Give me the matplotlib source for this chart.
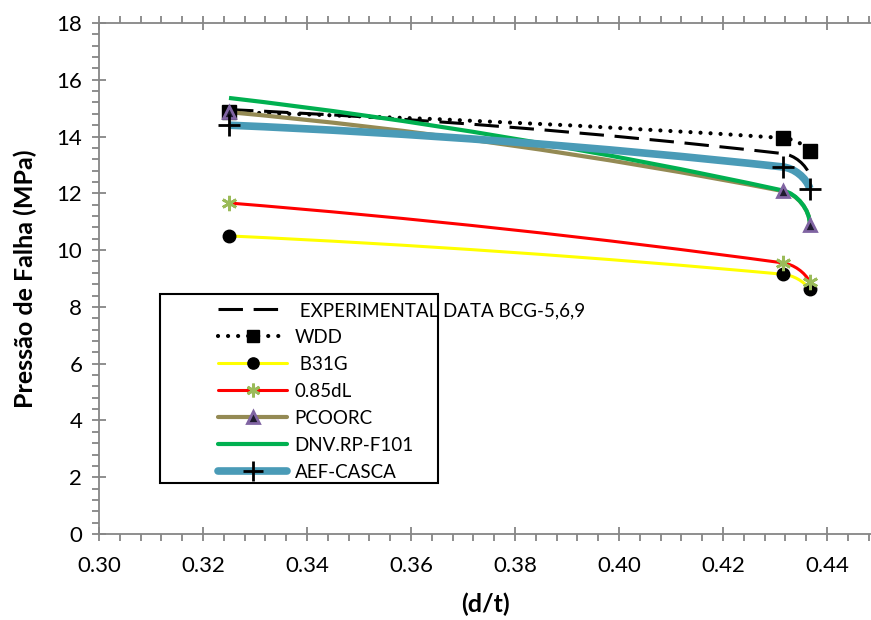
import numpy as np
import matplotlib
matplotlib.use("Agg")
import matplotlib.pyplot as plt
from matplotlib.path import Path
from matplotlib.patches import PathPatch, Rectangle
from matplotlib.lines import Line2D
from matplotlib.ticker import MultipleLocator, FormatStrFormatter

plt.rcParams['font.family'] = ['Lato', 'DejaVu Sans']

# d/t ratios of the three specimens
dt = [0.325, 0.4315, 0.4367]

# failure pressure (MPa) per method
experimental = [14.95, 13.40, 12.62]
wdd = [14.86, 13.95, 13.49]
b31g = [10.50, 9.15, 8.62]
dl085 = [11.66, 9.55, 8.88]
pcoorc = [14.86, 12.08, 10.90]
dnv = [15.36, 12.10, 10.90]
aef = [14.40, 12.93, 12.17]

labels = [' EXPERIMENTAL DATA BCG-5,6,9', 'WDD', ' B31G', '0.85dL',
          'PCOORC', 'DNV.RP-F101', 'AEF-CASCA']

fig = plt.figure(figsize=(8.71, 6.20), dpi=100)
ax = fig.add_axes([99 / 871, 1 - 534 / 620, 1 - 99 / 871, (534 - 23) / 620])
ax.set_xlim(0.30, 0.30 + 772 / 5200)
ax.set_ylim(0, 18)

axis_grey = '#868686'
for side in ('left', 'bottom', 'top'):
    ax.spines[side].set_color(axis_grey)
    ax.spines[side].set_linewidth(1.3)
ax.spines['right'].set_visible(False)

ax.xaxis.set_major_locator(MultipleLocator(0.02))
ax.xaxis.set_minor_locator(MultipleLocator(0.004))
ax.yaxis.set_major_locator(MultipleLocator(2))
ax.yaxis.set_minor_locator(MultipleLocator(0.4))
ax.xaxis.set_major_formatter(FormatStrFormatter('%.2f'))
ax.tick_params(which='major', direction='inout', length=10, width=1.3,
               color=axis_grey, labelsize=16, top=True, right=False)
ax.tick_params(which='minor', direction='out', length=5, width=1.3,
               color=axis_grey, top=True, right=False)
ax.tick_params(axis='x', which='major', pad=11, labeltop=False)
ax.tick_params(axis='y', which='major', pad=7)

ax.set_xlabel('(d/t)', fontsize=18, fontweight='bold', labelpad=12)
ax.set_ylabel('Pressão de Falha (MPa)', fontsize=18, fontweight='bold', labelpad=14)


def smooth_path(xs, ys):
    """Bezier curve through the points, tangents computed in display space."""
    pts = ax.transData.transform(np.column_stack([xs, ys]))
    n = len(pts)
    dirs = [None] * n
    for i in range(1, n - 1):
        d = pts[i + 1] - pts[i - 1]
        dirs[i] = d / np.linalg.norm(d)
    c0 = pts[1] - pts[0]
    c0 /= np.linalg.norm(c0)
    dirs[0] = 2 * np.dot(c0, dirs[1]) * c0 - dirs[1]
    ce = pts[-1] - pts[-2]
    ce /= np.linalg.norm(ce)
    dirs[-1] = 2 * np.dot(ce, dirs[-2]) * ce - dirs[-2]
    verts = [pts[0]]
    codes = [Path.MOVETO]
    for i in range(n - 1):
        L = np.linalg.norm(pts[i + 1] - pts[i])
        verts += [pts[i] + dirs[i] * L / 3, pts[i + 1] - dirs[i + 1] * L / 3, pts[i + 1]]
        codes += [Path.CURVE4] * 3
    verts = ax.transData.inverted().transform(np.array(verts))
    return Path(verts, codes)


styles = [
    dict(color='black', lw=2.2, ls=(0, (8, 3.5)), marker=None),
    dict(color='black', lw=3.0, ls=(0, (0.01, 2.4)), marker='s', ms=10,
         mfc='black', mec='black', capstyle='round'),
    dict(color='#FFFF00', lw=2.2, ls='-', marker='o', ms=9, mfc='black', mec='black'),
    dict(color='#FF0000', lw=2.2, ls='-', marker=(6, 2, 0), ms=11, mfc='#9BBB59',
         mec='#9BBB59', mew=2),
    dict(color='#948A54', lw=3.0, ls='-', marker='^', ms=9, mfc='#1E1A2E',
         mec='#8064A2', mew=2),
    dict(color='#00B050', lw=3.0, ls='-', marker=None),
    dict(color='#4A9BB7', lw=5.5, ls='-', marker='+', ms=16, mfc='black',
         mec='black', mew=2),
]
series = [experimental, wdd, b31g, dl085, pcoorc, dnv, aef]

handles = []
for k, (vals, st) in enumerate(zip(series, styles)):
    patch = PathPatch(smooth_path(dt, vals), fill=False, edgecolor=st['color'],
                      lw=st['lw'], linestyle=st['ls'],
                      capstyle=st.get('capstyle', 'butt'), zorder=2 + k * 0.1)
    ax.add_patch(patch)
    if st['marker'] is not None:
        ax.plot(dt, vals, ls='none', marker=st['marker'], ms=st['ms'],
                mfc=st['mfc'], mec=st['mec'], mew=st.get('mew', 1), zorder=4 + k * 0.1)
    h = Line2D([], [], color=st['color'], lw=st['lw'], ls=st['ls'],
               marker=st['marker'], ms=st.get('ms', 0) * 0.9,
               mfc=st.get('mfc'), mec=st.get('mec'), mew=st.get('mew', 1),
               dash_capstyle=st.get('capstyle', 'butt'),
               solid_capstyle='round')
    handles.append(h)

fig.patches.append(Rectangle((160 / 871, 1 - 483 / 620), 278 / 871, 189 / 620,
                             transform=fig.transFigure, fill=False,
                             edgecolor='black', lw=1.5, zorder=5))
fig.legend(handles, labels, loc='upper left', bbox_to_anchor=(218 / 871, 1 - 302 / 620),
           frameon=False, fontsize=13.5, handlelength=3.7, handletextpad=0.38,
           labelspacing=0.53, borderpad=0, borderaxespad=0, numpoints=1)

fig.savefig('out.png', dpi=100)
